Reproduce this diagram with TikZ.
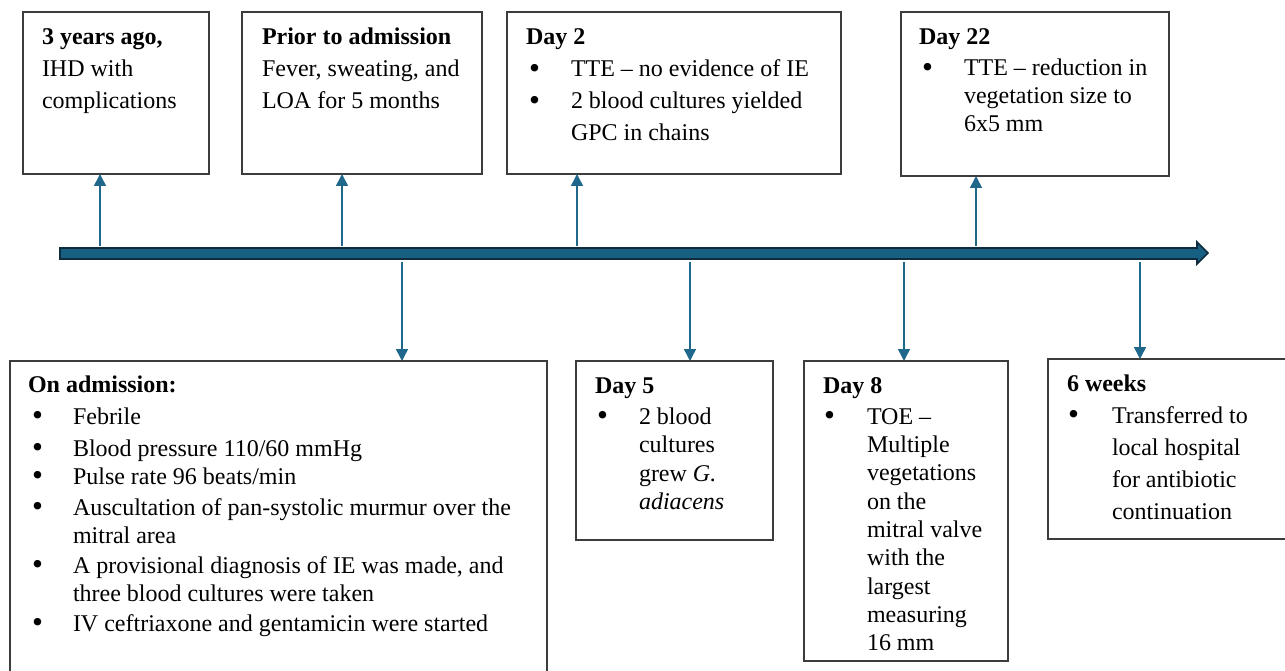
\documentclass[tikz,border=0pt]{standalone}
\usepackage{fontspec}
\setmainfont{Liberation Serif}
\usetikzlibrary{arrows.meta}
\definecolor{barfill}{RGB}{23,96,130}
\definecolor{barline}{RGB}{14,44,62}
\definecolor{arr}{RGB}{31,104,140}
\definecolor{boxline}{RGB}{60,60,60}
\newcommand{\tlbul}[2]{\hspace*{#1pt}\makebox[#2pt][l]{\raisebox{-1.6pt}{\scalebox{1.3}{\textbullet}}}}
\newcommand{\tlcont}[1]{\hspace*{#1pt}}
\begin{document}
\begin{tikzpicture}[x=1pt, y=-1pt,
  box/.style={draw=boxline, line width=1.3pt, anchor=north west, inner sep=0pt, outer sep=0pt},
  txt/.style={anchor=base west, inner sep=0pt, outer sep=0pt, align=left},
  upar/.style={draw=arr, line width=1.5pt, -{Triangle[width=12pt,length=12pt]}}]
\useasboundingbox (0,0) rectangle (1285,671);

% timeline bar
\path[fill=barfill, draw=barline, line width=1.6pt, line join=miter]
  (60,248) -- (1197,248) -- (1197,242) -- (1208,253) -- (1197,264) -- (1197,259) -- (60,259) -- cycle;

% boxes
\node[box, minimum width=186pt, minimum height=162pt] (b1) at (23,12) {};
\node[box, minimum width=240pt, minimum height=162pt] (b2) at (242,12) {};
\node[box, minimum width=334pt, minimum height=162pt] (b3) at (507,12) {};
\node[box, minimum width=268pt, minimum height=164pt] (b4) at (901,12) {};
\node[box, minimum width=537pt, minimum height=340pt] (b5) at (10,361) {};
\node[box, minimum width=197pt, minimum height=179pt] (b6) at (576,361) {};
\node[box, minimum width=204pt, minimum height=300pt] (b7) at (804,361) {};
\node[box, minimum width=260pt, minimum height=180pt] (b8) at (1048,359) {};

% texts (anchored at the baseline of their last line)
\node[txt, font=\fontsize{24}{32}\selectfont] (t1) at (42,109)
  {\textbf{3 years ago,}\\IHD with\\complications};
\node[txt, font=\fontsize{24}{32}\selectfont] (t2) at (262,109)
  {\textbf{Prior to admission}\\Fever, sweating, and\\LOA for 5 months};
\node[txt, font=\fontsize{24}{32}\selectfont] (t3) at (526,141)
  {\textbf{Day 2}\\
   \tlbul{3}{42}TTE – no evidence of IE\\
   \tlbul{3}{42}2 blood cultures yielded\\
   \tlcont{45}GPC in chains};
\node[txt, font=\fontsize{24}{28}\selectfont] (t4) at (919,132)
  {\textbf{Day 22}\\[3pt]
   \tlbul{3}{42}TTE – reduction in\\
   \tlcont{45}vegetation size to\\
   \tlcont{45}6x5 mm};
\node[txt, font=\fontsize{24}{28}\selectfont] (t5) at (28,631)
  {\textbf{On admission:}\\[4pt]
   \tlbul{4}{41}Febrile\\[4pt]
   \tlbul{4}{41}Blood pressure 110/60 mmHg\\
   \tlbul{4}{41}Pulse rate 96 beats/min\\[3pt]
   \tlbul{4}{41}Auscultation of pan-systolic murmur over the\\
   \tlcont{45}mitral area\\[2pt]
   \tlbul{4}{41}A provisional diagnosis of IE was made, and\\
   \tlcont{45}three blood cultures were taken\\[2pt]
   \tlbul{4}{41}IV ceftriaxone and gentamicin were started};
\node[txt, font=\fontsize{24}{28.5}\selectfont] (t6) at (595,509.5)
  {\textbf{Day 5}\\[2.5pt]
   \tlbul{2}{42}2 blood\\
   \tlcont{44}cultures\\
   \tlcont{44}grew \textit{G.}\\
   \tlcont{44}\textit{adiacens}};
\node[txt, font=\fontsize{24}{28.3}\selectfont] (t7) at (823,650.7)
  {\textbf{Day 8}\\[3pt]
   \tlbul{1}{43}TOE –\\
   \tlcont{44}Multiple\\
   \tlcont{44}vegetations\\
   \tlcont{44}on the\\
   \tlcont{44}mitral valve\\
   \tlcont{44}with the\\
   \tlcont{44}largest\\
   \tlcont{44}measuring\\
   \tlcont{44}16 mm};
\node[txt, font=\fontsize{24}{32}\selectfont] (t8) at (1067,519)
  {\textbf{6 weeks}\\
   \tlbul{1}{44}Transferred to\\
   \tlcont{45}local hospital\\
   \tlcont{45}for antibiotic\\
   \tlcont{45}continuation};

% connectors
\coordinate (u1) at (100,246);
\coordinate (u2) at (342,246);
\coordinate (u3) at (577,246);
\coordinate (u4) at (976,246);
\coordinate (d1) at (402,262);
\coordinate (d2) at (690,262);
\coordinate (d3) at (904,262);
\coordinate (d4) at (1140,262);
\draw[upar] (u1) -- (u1 |- b1.south);
\draw[upar] (u2) -- (u2 |- b2.south);
\draw[upar] (u3) -- (u3 |- b3.south);
\draw[upar] (u4) -- (u4 |- b4.south);
\draw[upar] (d1) -- (d1 |- b5.north);
\draw[upar] (d2) -- (d2 |- b6.north);
\draw[upar] (d3) -- (d3 |- b7.north);
\draw[upar] (d4) -- (d4 |- b8.north);
\end{tikzpicture}
\end{document}
